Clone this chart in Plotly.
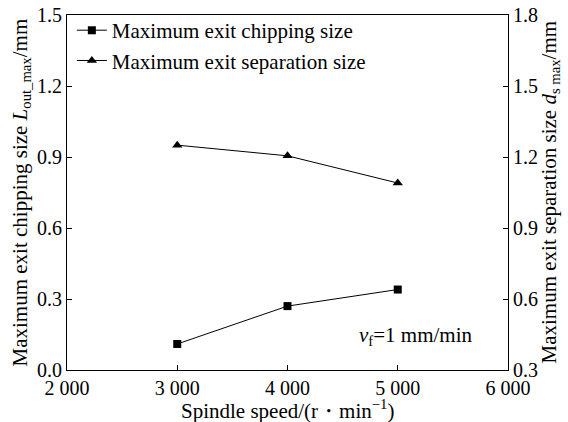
import plotly.graph_objects as go

speed = [3000, 4000, 5000]
chipping = [0.11, 0.27, 0.34]
separation = [1.25, 1.205, 1.09]
x_ticks = [2000, 3000, 4000, 5000, 6000]
x_tick_labels = ["2 000", "3 000", "4 000", "5 000", "6 000"]
y1_ticks = [0.0, 0.3, 0.6, 0.9, 1.2, 1.5]
y2_ticks = [0.3, 0.6, 0.9, 1.2, 1.5, 1.8]

FONT = "Liberation Serif, Times New Roman, serif"
FS_TICK = 20
FS_TEXT = 21

fig = go.Figure()
fig.add_trace(go.Scatter(
    x=speed, y=chipping, mode="lines+markers", name="Maximum exit chipping size",
    line=dict(color="black", width=1),
    marker=dict(symbol="square", size=8, color="black"),
))
fig.add_trace(go.Scatter(
    x=speed, y=separation, mode="lines+markers", name="Maximum exit separation size",
    line=dict(color="black", width=1),
    marker=dict(symbol="triangle-up", size=9, color="black"),
    yaxis="y2",
))

axis_common = dict(showgrid=False, zeroline=False, showline=True, linecolor="black",
                   linewidth=1, ticks="inside", ticklen=5, tickcolor="black",
                   automargin=False, ticklabelstandoff=0,
                   tickfont=dict(family=FONT, size=FS_TICK, color="black"))

fig.update_layout(
    width=568, height=422,
    margin=dict(l=67, r=60, t=15, b=52, autoexpand=False),
    paper_bgcolor="white", plot_bgcolor="white",
    font=dict(family=FONT, size=FS_TEXT, color="black"),
    showlegend=True,
    legend=dict(x=0.011, y=1.014, xanchor="left", yanchor="top",
                bgcolor="rgba(0,0,0,0)", font=dict(family=FONT, size=FS_TEXT),
                tracegroupgap=0, itemwidth=30),
    xaxis=dict(range=[2000, 6000], tickvals=x_ticks, ticktext=x_tick_labels,
               mirror=True, **axis_common),
    yaxis=dict(range=[0, 1.5], tickvals=y1_ticks, tickformat=".1f", **axis_common),
    yaxis2=dict(range=[0.3, 1.8], tickvals=y2_ticks, tickformat=".1f",
                overlaying="y", side="right", **axis_common),
)

anns = [
    dict(x=0.5, xref="paper", y=-0.112, yref="paper", xanchor="center", yanchor="middle",
         showarrow=False, text="Spindle speed/(r・min<sup>−1</sup>)",
         font=dict(family=FONT, size=FS_TEXT, color="black")),
    dict(x=0, xref="paper", xshift=-47, y=0.5, yref="paper", xanchor="center", yanchor="middle",
         showarrow=False, textangle=-90,
         text="Maximum exit chipping size <i>L</i><sub>out_max</sub>/mm",
         font=dict(family=FONT, size=FS_TEXT, color="black")),
    dict(x=1, xref="paper", xshift=41, y=0.5, yref="paper", xanchor="center", yanchor="middle",
         showarrow=False, textangle=-90,
         text="Maximum exit separation size <i>d</i><sub>s max</sub>/mm",
         font=dict(family=FONT, size=FS_TEXT, color="black")),
    dict(x=0.791, xref="paper", y=0.095, yref="paper", xanchor="center", yanchor="middle",
         showarrow=False, text="<i>v</i><sub>f</sub>=1 mm/min",
         font=dict(family=FONT, size=FS_TEXT, color="black")),
]
fig.update_layout(annotations=anns)

fig.write_html("out.html", config={"displayModeBar": False},
               post_script="document.body.style.margin='0';document.body.style.overflow='hidden';")
